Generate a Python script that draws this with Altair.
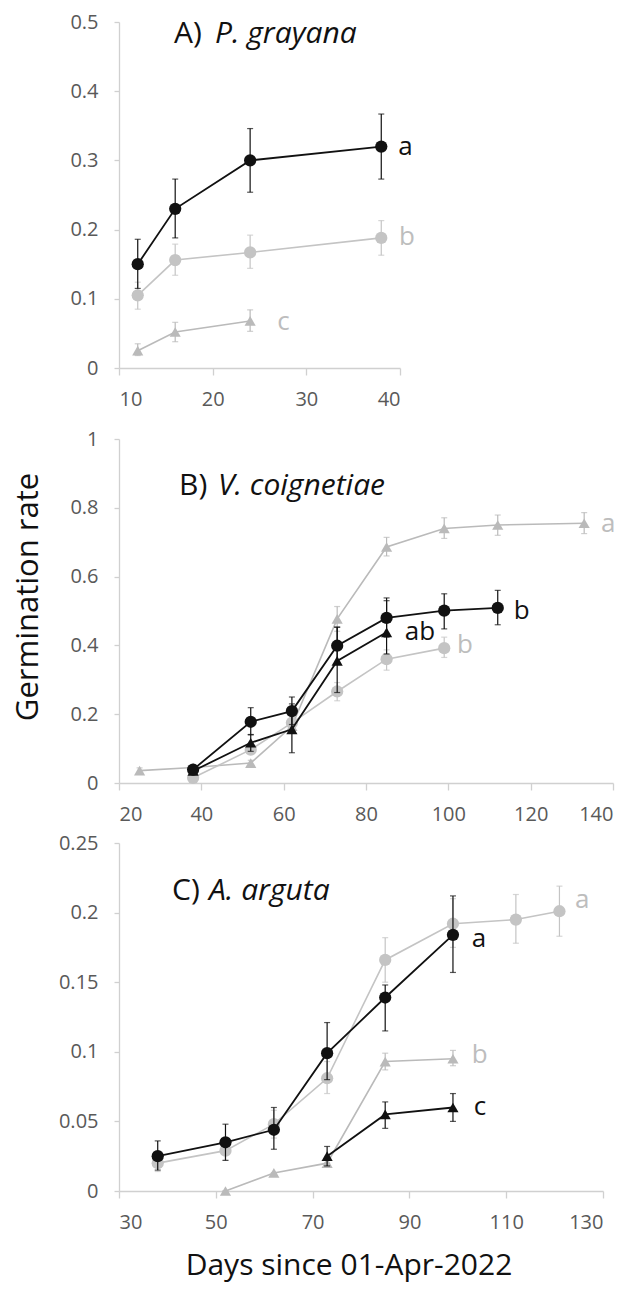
import altair as alt
import pandas as pd

FONT = "Open Sans"
BLACK = "#111111"
GREY_C = "#c4c4c4"
GREY_T = "#bababa"
GREY_TXT = "#bdbdbd"

# ---------------- Panel A: P. grayana ----------------
a_days = [12, 16, 24, 38]
a_bc = [0.150, 0.230, 0.300, 0.320]
a_bc_lo = [0.115, 0.188, 0.254, 0.273]
a_bc_hi = [0.186, 0.273, 0.346, 0.367]
a_gc = [0.105, 0.156, 0.167, 0.188]
a_gc_lo = [0.085, 0.134, 0.144, 0.163]
a_gc_hi = [0.124, 0.179, 0.192, 0.213]
a_gt_days = [12, 16, 24]
a_gt = [0.025, 0.052, 0.068]
a_gt_lo = [0.018, 0.038, 0.053]
a_gt_hi = [0.035, 0.066, 0.084]
a_letters = ["a", "b", "c"]
a_letter_days = [39.8, 39.9, 26.9]
a_letter_rates = [0.320, 0.189, 0.067]
a_letter_tone = ["black", "grey", "grey"]

# ---------------- Panel B: V. coignetiae ----------------
b_gt_days = [25, 38, 52, 62, 73, 85, 99, 112, 133]
b_gt = [0.036, 0.045, 0.058, 0.165, 0.477, 0.686, 0.740, 0.750, 0.755]
b_gt_lo = [0.028, 0.040, 0.050, 0.150, 0.441, 0.660, 0.711, 0.720, 0.725]
b_gt_hi = [0.044, 0.050, 0.066, 0.180, 0.513, 0.714, 0.771, 0.779, 0.786]
b_bc_days = [38, 52, 62, 73, 85, 99, 112]
b_bc = [0.039, 0.178, 0.209, 0.399, 0.480, 0.501, 0.509]
b_bc_lo = [0.030, 0.140, 0.170, 0.346, 0.424, 0.448, 0.460]
b_bc_hi = [0.048, 0.219, 0.250, 0.453, 0.538, 0.550, 0.560]
b_bt_days = [38, 52, 62, 73, 85]
b_bt = [0.035, 0.117, 0.156, 0.355, 0.438]
b_bt_lo = [0.030, 0.092, 0.088, 0.263, 0.375]
b_bt_hi = [0.040, 0.141, 0.230, 0.453, 0.530]
b_gc_days = [38, 52, 62, 73, 85, 99]
b_gc = [0.015, 0.097, 0.175, 0.266, 0.360, 0.392]
b_gc_lo = [0.010, 0.085, 0.160, 0.239, 0.328, 0.365]
b_gc_hi = [0.020, 0.109, 0.190, 0.292, 0.387, 0.424]
b_letters = ["a", "b", "ab", "b"]
b_letter_days = [137.1, 115.9, 89.4, 102.1]
b_letter_rates = [0.754, 0.500, 0.438, 0.400]
b_letter_tone = ["grey", "black", "black", "grey"]

# ---------------- Panel C: A. arguta ----------------
c_bc_days = [38, 52, 62, 73, 85, 99]
c_bc = [0.025, 0.035, 0.044, 0.099, 0.139, 0.184]
c_bc_lo = [0.015, 0.022, 0.030, 0.080, 0.115, 0.157]
c_bc_hi = [0.036, 0.048, 0.060, 0.121, 0.148, 0.212]
c_gc_days = [38, 52, 62, 73, 85, 99, 112, 121]
c_gc = [0.020, 0.029, 0.048, 0.081, 0.166, 0.192, 0.195, 0.201]
c_gc_lo = [0.014, 0.022, 0.038, 0.070, 0.150, 0.175, 0.178, 0.183]
c_gc_hi = [0.026, 0.038, 0.058, 0.093, 0.182, 0.210, 0.213, 0.219]
c_gt_days = [52, 62, 73, 85, 99]
c_gt = [0.000, 0.013, 0.020, 0.093, 0.095]
c_gt_lo = [0.000, 0.013, 0.020, 0.087, 0.090]
c_gt_hi = [0.000, 0.013, 0.020, 0.099, 0.101]
c_bt_days = [73, 85, 99]
c_bt = [0.025, 0.055, 0.060]
c_bt_lo = [0.018, 0.045, 0.050]
c_bt_hi = [0.032, 0.064, 0.070]
c_letters = ["a", "a", "b", "c"]
c_letter_days = [124.2, 102.9, 102.9, 103.3]
c_letter_rates = [0.209, 0.181, 0.098, 0.060]
c_letter_tone = ["grey", "black", "grey", "black"]

Y_TITLE = "Germination rate"
X_TITLE = "Days since 01-Apr-2022"


def enc(xscale, xaxis, yscale, yaxis, yfield="rate"):
    return dict(
        x=alt.X("day:Q", scale=xscale, axis=xaxis),
        y=alt.Y(f"{yfield}:Q", scale=yscale, axis=yaxis),
    )


def series(days, rate, lo, hi, color, shape, size, width, xs, xa, ys, ya):
    df = pd.DataFrame({"day": days, "rate": rate, "lo": lo, "hi": hi})
    base = alt.Chart(df)
    line = base.mark_line(color=color, strokeWidth=width).encode(**enc(xs, xa, ys, ya))
    err = base.mark_rule(color=color, strokeWidth=1.2).encode(
        **enc(xs, xa, ys, ya, "lo"), y2="hi:Q"
    )
    cap_lo = base.mark_tick(color=color, orient="horizontal", size=6, thickness=1.2).encode(
        **enc(xs, xa, ys, ya, "lo")
    )
    cap_hi = base.mark_tick(color=color, orient="horizontal", size=6, thickness=1.2).encode(
        **enc(xs, xa, ys, ya, "hi")
    )
    pts = base.mark_point(
        shape=shape, size=size, filled=True, opacity=1, color=color
    ).encode(**enc(xs, xa, ys, ya))
    return [line, err, cap_lo, cap_hi, pts]


def letters(texts, days, rates, tones, xs, xa, ys, ya):
    df = pd.DataFrame({"day": days, "rate": rates, "t": texts, "tone": tones})
    return alt.Chart(df).mark_text(
        align="left", baseline="middle", font=FONT, fontSize=26
    ).encode(
        **enc(xs, xa, ys, ya),
        text="t:N",
        color=alt.Color(
            "tone:N",
            scale=alt.Scale(domain=["black", "grey"], range=[BLACK, GREY_TXT]),
            legend=None,
        ),
    )


def label_text(txt, x, y, size, **kw):
    return alt.Chart(pd.DataFrame({"t": [txt]})).mark_text(
        font=FONT, fontSize=size, color=BLACK, **kw
    ).encode(x=alt.value(x), y=alt.value(y), text="t:N")


def panel_title(label, species, x_label, x_species, y_base):
    return [
        label_text(label, x_label, y_base, 30, align="left", baseline="alphabetic"),
        label_text(species, x_species, y_base, 30, align="left",
                   baseline="alphabetic", fontStyle="italic"),
    ]


CIRC = 150
TRI = 125

# ---- Panel A
xsA = alt.Scale(domain=[10, 40], nice=False, zero=False)
xaA = alt.Axis(values=[10, 20, 30, 40], title=None)
ysA = alt.Scale(domain=[0, 0.5], nice=False)
yaA = alt.Axis(values=[0, 0.1, 0.2, 0.3, 0.4, 0.5], format="~g", title=None)
layersA = []
layersA += series(a_gt_days, a_gt, a_gt_lo, a_gt_hi, GREY_T, "triangle-up", TRI, 1.6, xsA, xaA, ysA, yaA)
layersA += series(a_days, a_gc, a_gc_lo, a_gc_hi, GREY_C, "circle", CIRC, 1.6, xsA, xaA, ysA, yaA)
layersA += series(a_days, a_bc, a_bc_lo, a_bc_hi, BLACK, "circle", CIRC, 1.8, xsA, xaA, ysA, yaA)
layersA.append(letters(a_letters, a_letter_days, a_letter_rates, a_letter_tone, xsA, xaA, ysA, yaA))
layersA += panel_title("A)", "P. grayana", 55, 96, 21)
chartA = alt.layer(*layersA).properties(width=281, height=346)

# ---- Panel B (plot area starts 11px lower than its group to widen the gap above)
B_H = 355
B_TOP = 11
xsB = alt.Scale(domain=[20, 140], nice=False, zero=False)
xaB = alt.Axis(values=[20, 40, 60, 80, 100, 120, 140], title=None)
ysB = alt.Scale(domain=[0, 1], nice=False, range=[B_H, B_TOP])
yaB = alt.Axis(values=[0, 0.2, 0.4, 0.6, 0.8, 1], format="~g", title=None)
layersB = []
layersB += series(b_gt_days, b_gt, b_gt_lo, b_gt_hi, GREY_T, "triangle-up", TRI, 1.6, xsB, xaB, ysB, yaB)
layersB += series(b_gc_days, b_gc, b_gc_lo, b_gc_hi, GREY_C, "circle", CIRC, 1.6, xsB, xaB, ysB, yaB)
layersB += series(b_bt_days, b_bt, b_bt_lo, b_bt_hi, BLACK, "triangle-up", TRI, 1.8, xsB, xaB, ysB, yaB)
layersB += series(b_bc_days, b_bc, b_bc_lo, b_bc_hi, BLACK, "circle", CIRC, 1.8, xsB, xaB, ysB, yaB)
layersB.append(letters(b_letters, b_letter_days, b_letter_rates, b_letter_tone, xsB, xaB, ysB, yaB))
layersB += panel_title("B)", "V. coignetiae", 60, 99, 56 + B_TOP)
layersB.append(label_text(Y_TITLE, -90, 158 + B_TOP, 31, angle=270,
                          align="center", baseline="middle"))
chartB = alt.layer(*layersB).properties(width=494, height=B_H)

# ---- Panel C
xsC = alt.Scale(domain=[30, 130], nice=False, zero=False)
xaC = alt.Axis(values=[30, 50, 70, 90, 110, 130], title=None)
ysC = alt.Scale(domain=[0, 0.25], nice=False)
yaC = alt.Axis(values=[0, 0.05, 0.1, 0.15, 0.2, 0.25], format="~g", title=None)
layersC = []
layersC += series(c_gt_days, c_gt, c_gt_lo, c_gt_hi, GREY_T, "triangle-up", TRI, 1.6, xsC, xaC, ysC, yaC)
layersC += series(c_gc_days, c_gc, c_gc_lo, c_gc_hi, GREY_C, "circle", CIRC, 1.6, xsC, xaC, ysC, yaC)
layersC += series(c_bt_days, c_bt, c_bt_lo, c_bt_hi, BLACK, "triangle-up", TRI, 1.8, xsC, xaC, ysC, yaC)
layersC += series(c_bc_days, c_bc, c_bc_lo, c_bc_hi, BLACK, "circle", CIRC, 1.8, xsC, xaC, ysC, yaC)
layersC.append(letters(c_letters, c_letter_days, c_letter_rates, c_letter_tone, xsC, xaC, ysC, yaC))
layersC += panel_title("C)", "A. arguta", 53, 90, 57)
layersC.append(label_text(X_TITLE, 230, 348 + 84, 30, align="center", baseline="alphabetic"))
chartC = alt.layer(*layersC).properties(width=484, height=348)

chart = alt.vconcat(chartA, chartB, chartC, spacing=60, bounds="flush").properties(
    padding={"left": 5, "top": 4, "right": 5, "bottom": 2}
).configure_view(stroke=None).configure_axis(
    grid=False,
    domainColor="#d0d0d0",
    tickColor="#d0d0d0",
    domainWidth=1.3,
    tickWidth=1.3,
    labelFont=FONT,
    labelFontSize=20,
    labelColor="#595959",
).configure_axisX(
    tickSize=7, labelPadding=14
).configure_axisY(
    tickSize=5, labelPadding=16
)

chart.save("out.html", embed_options={"renderer": "svg", "actions": False})
